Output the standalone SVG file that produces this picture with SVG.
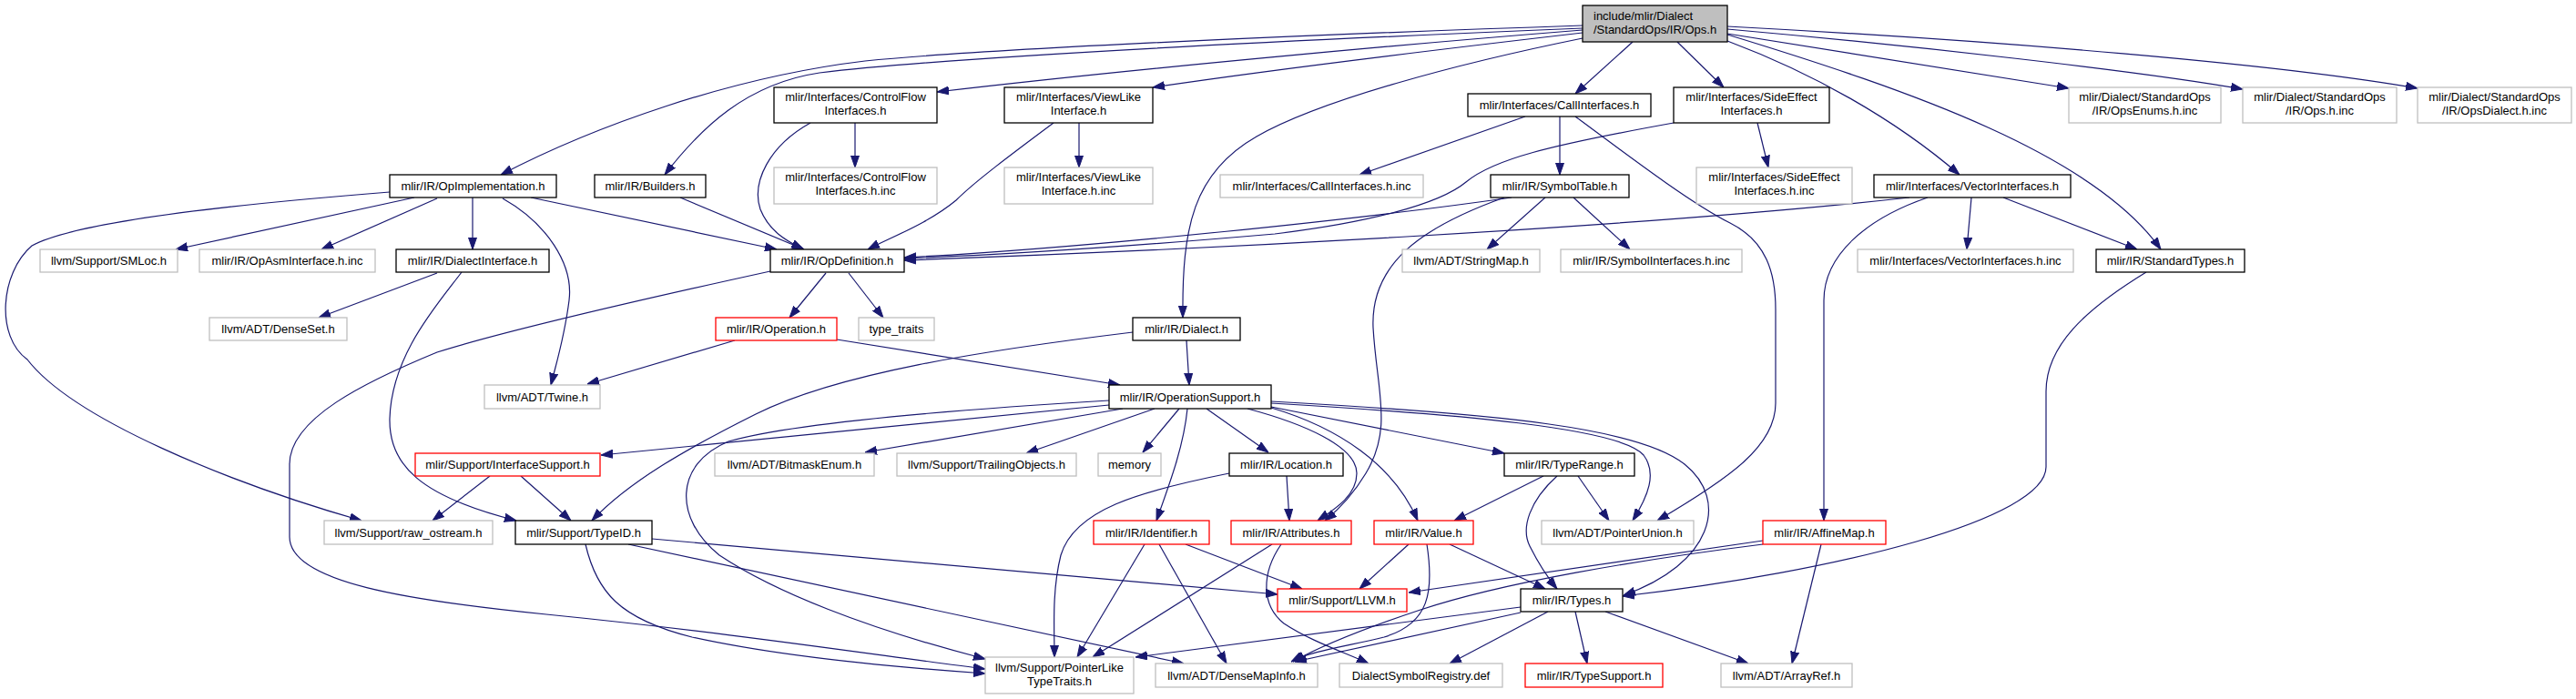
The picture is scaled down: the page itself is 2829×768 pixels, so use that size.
<svg xmlns="http://www.w3.org/2000/svg" width="2829" height="768" viewBox="0 0 2829 768">
<style>
.k rect{fill:#fff;stroke:#000;stroke-width:1.3}
.g rect{fill:#fff;stroke:#bfbfbf;stroke-width:1.3}
.r rect{fill:#fff;stroke:#ff0000;stroke-width:1.3}
.rt rect{fill:#bfbfbf;stroke:#000;stroke-width:1.3}
text{font-family:"Liberation Sans",Arial,sans-serif;font-size:13px;fill:#000;text-anchor:middle}
.rt text{text-anchor:start}
#edges path{fill:none;stroke:#191970;stroke-width:1.2;marker-end:url(#ah)}
</style>
<defs>
<marker id="ah" markerWidth="13" markerHeight="10" refX="13" refY="5" orient="auto" markerUnits="userSpaceOnUse">
<path d="M0,0.5 L13,5 L0,9.5 z" fill="#191970" stroke="#191970" stroke-width="1"/>
</marker>
</defs>
<rect width="2829" height="768" fill="#fff"/>
<g id="edges">
<path d="M1738,28 C1500,36 1100,52 950,67 C800,85 650,140 550,192"/>
<path d="M1738,31 C1400,45 1050,62 900,80 C820,92 770,140 730,192"/>
<path d="M1738,33 C1550,48 1250,75 1029,101"/>
<path d="M1738,36 C1600,52 1400,76 1266,96"/>
<path d="M1738,42 C1600,70 1450,110 1380,150 C1310,190 1298,250 1299,349"/>
<path d="M1793,46 L1730,103"/>
<path d="M1842,46 L1893,96"/>
<path d="M1897,45 C1990,80 2080,130 2152,192"/>
<path d="M1897,38 C2100,100 2300,170 2373,274"/>
<path d="M1897,37 L2272,97"/>
<path d="M1897,32 C2100,50 2350,78 2463,98"/>
<path d="M1897,29 C2200,45 2500,70 2655,97"/>
<path d="M1675,128 L1493,192"/>
<path d="M1713,128 L1713,192"/>
<path d="M1730,128 C1800,180 1860,225 1900,245 C1940,265 1950,300 1950,340 L1950,443 C1950,490 1900,525 1820,572"/>
<path d="M1930,135 L1942,184"/>
<path d="M1838,135 C1700,160 1640,175 1610,200 C1580,225 1500,245 1400,257 C1250,270 1100,280 993,284"/>
<path d="M1660,217 C1500,240 1200,272 993,283"/>
<path d="M2097,217 C1800,250 1300,275 993,286"/>
<path d="M1697,217 L1633,274"/>
<path d="M1728,217 L1790,274"/>
<path d="M1652,217 C1560,250 1505,290 1508,360 C1512,430 1530,470 1500,520 C1485,545 1470,560 1455,572"/>
<path d="M2117,217 C2050,240 2003,280 2003,330 L2003,572"/>
<path d="M2165,217 L2160,274"/>
<path d="M2200,217 L2347,274"/>
<path d="M2357,299 C2290,340 2247,380 2247,430 L2247,513 C2247,570 2020,628 1782,655"/>
<path d="M939,135 L939,184"/>
<path d="M890,135 C845,160 825,200 835,230 C845,255 865,265 882,274"/>
<path d="M1185,135 L1185,184"/>
<path d="M1157,135 C1110,170 1070,200 1050,220 C1020,245 980,260 953,274"/>
<path d="M747,217 L883,274"/>
<path d="M455,217 L193,274"/>
<path d="M480,218 L353,274"/>
<path d="M519,217 L519,274"/>
<path d="M583,217 L853,274"/>
<path d="M552,218 C600,245 630,290 625,330 C620,370 612,395 605,423"/>
<path d="M428,211 C250,225 80,245 35,270 C0,300 -5,370 30,395 C80,460 250,530 397,572"/>
<path d="M480,300 L350,349"/>
<path d="M507,299 C480,335 430,390 428,460 C427,510 460,545 567,572"/>
<path d="M907,300 L867,349"/>
<path d="M932,300 L970,349"/>
<path d="M846,298 C700,330 550,365 480,387 C400,420 318,460 318,510 L318,590 C318,640 450,660 600,675 C800,695 950,718 1082,735"/>
<path d="M807,374 L645,422"/>
<path d="M919,373 L1230,423"/>
<path d="M1303,374 L1306,423"/>
<path d="M1244,365 C1080,385 920,410 830,455 C750,495 690,530 650,572"/>
<path d="M1218,445 L660,500"/>
<path d="M1233,449 L950,497"/>
<path d="M1268,449 L1127,498"/>
<path d="M1295,449 L1255,497"/>
<path d="M1325,449 L1393,497"/>
<path d="M1304,449 C1300,490 1285,530 1270,572"/>
<path d="M1218,440 C1050,450 870,465 800,485 C740,510 740,570 790,610 C850,650 950,690 1082,724"/>
<path d="M1370,449 C1430,465 1490,490 1490,520 C1490,545 1465,560 1447,572"/>
<path d="M1396,448 C1470,470 1530,510 1557,572"/>
<path d="M1396,447 L1652,498"/>
<path d="M1396,443 C1600,455 1780,470 1805,500 C1820,520 1810,545 1793,572"/>
<path d="M1396,441 C1650,455 1800,470 1850,510 C1900,550 1880,620 1783,654"/>
<path d="M538,523 L475,572"/>
<path d="M572,523 L627,572"/>
<path d="M1413,523 L1416,572"/>
<path d="M1350,520 C1250,540 1180,560 1165,610 C1155,650 1158,690 1158,722"/>
<path d="M1695,523 L1597,572"/>
<path d="M1710,523 C1680,550 1670,580 1680,600 C1690,620 1700,635 1710,647"/>
<path d="M1733,523 L1767,572"/>
<path d="M1257,598 L1183,722"/>
<path d="M1273,598 L1347,729"/>
<path d="M1302,598 L1430,647"/>
<path d="M1397,598 L1200,722"/>
<path d="M1407,598 C1385,630 1385,665 1410,685 C1440,705 1480,718 1503,729"/>
<path d="M1547,598 L1493,647"/>
<path d="M1592,598 L1697,647"/>
<path d="M1567,598 C1575,650 1570,685 1520,700 C1480,710 1440,715 1418,727"/>
<path d="M1670,667 L1247,722"/>
<path d="M1670,673 L1422,727"/>
<path d="M1700,672 L1592,729"/>
<path d="M1730,672 L1743,729"/>
<path d="M1763,672 L1920,729"/>
<path d="M1936,594 L1547,651"/>
<path d="M2000,598 L1968,729"/>
<path d="M1936,598 C1800,615 1650,640 1560,670 C1500,690 1450,710 1420,727"/>
<path d="M716,592 L1403,653"/>
<path d="M690,598 L1300,729"/>
<path d="M643,598 C655,650 680,680 760,700 C850,720 980,733 1082,740"/>
</g>
<g id="n_root" class="rt"><rect x="1738" y="6" width="159" height="40"/><text x="1750" y="22">include/mlir/Dialect</text><text x="1750" y="37">/StandardOps/IR/Ops.h</text></g>
<g id="n_cf" class="k"><rect x="850" y="96" width="179" height="39"/><text x="939.5" y="111">mlir/Interfaces/ControlFlow</text><text x="939.5" y="126">Interfaces.h</text></g>
<g id="n_vl" class="k"><rect x="1103" y="96" width="163" height="39"/><text x="1184.5" y="111">mlir/Interfaces/ViewLike</text><text x="1184.5" y="126">Interface.h</text></g>
<g id="n_call" class="k"><rect x="1612" y="103" width="201" height="25"/><text x="1712.5" y="120">mlir/Interfaces/CallInterfaces.h</text></g>
<g id="n_se" class="k"><rect x="1838" y="96" width="171" height="39"/><text x="1923.5" y="111">mlir/Interfaces/SideEffect</text><text x="1923.5" y="126">Interfaces.h</text></g>
<g id="n_enums" class="g"><rect x="2272" y="96" width="167" height="39"/><text x="2355.5" y="111">mlir/Dialect/StandardOps</text><text x="2355.5" y="126">/IR/OpsEnums.h.inc</text></g>
<g id="n_opsinc" class="g"><rect x="2463" y="96" width="169" height="39"/><text x="2547.5" y="111">mlir/Dialect/StandardOps</text><text x="2547.5" y="126">/IR/Ops.h.inc</text></g>
<g id="n_dialinc" class="g"><rect x="2655" y="96" width="169" height="39"/><text x="2739.5" y="111">mlir/Dialect/StandardOps</text><text x="2739.5" y="126">/IR/OpsDialect.h.inc</text></g>
<g id="n_opimpl" class="k"><rect x="428" y="192" width="183" height="25"/><text x="519.5" y="209">mlir/IR/OpImplementation.h</text></g>
<g id="n_builders" class="k"><rect x="653" y="192" width="122" height="25"/><text x="714" y="209">mlir/IR/Builders.h</text></g>
<g id="n_cfinc" class="g"><rect x="850" y="184" width="179" height="40"/><text x="939.5" y="199">mlir/Interfaces/ControlFlow</text><text x="939.5" y="214">Interfaces.h.inc</text></g>
<g id="n_vlinc" class="g"><rect x="1103" y="184" width="163" height="40"/><text x="1184.5" y="199">mlir/Interfaces/ViewLike</text><text x="1184.5" y="214">Interface.h.inc</text></g>
<g id="n_callinc" class="g"><rect x="1340" y="192" width="223" height="25"/><text x="1451.5" y="209">mlir/Interfaces/CallInterfaces.h.inc</text></g>
<g id="n_symtab" class="k"><rect x="1637" y="192" width="152" height="25"/><text x="1713" y="209">mlir/IR/SymbolTable.h</text></g>
<g id="n_seinc" class="g"><rect x="1863" y="184" width="171" height="40"/><text x="1948.5" y="199">mlir/Interfaces/SideEffect</text><text x="1948.5" y="214">Interfaces.h.inc</text></g>
<g id="n_vec" class="k"><rect x="2058" y="192" width="216" height="25"/><text x="2166" y="209">mlir/Interfaces/VectorInterfaces.h</text></g>
<g id="n_smloc" class="g"><rect x="44" y="274" width="151" height="25"/><text x="119.5" y="291">llvm/Support/SMLoc.h</text></g>
<g id="n_opasm" class="g"><rect x="219" y="274" width="193" height="25"/><text x="315.5" y="291">mlir/IR/OpAsmInterface.h.inc</text></g>
<g id="n_dialif" class="k"><rect x="435" y="274" width="168" height="25"/><text x="519" y="291">mlir/IR/DialectInterface.h</text></g>
<g id="n_opdef" class="k"><rect x="846" y="274" width="147" height="25"/><text x="919.5" y="291">mlir/IR/OpDefinition.h</text></g>
<g id="n_strmap" class="g"><rect x="1540" y="274" width="151" height="25"/><text x="1615.5" y="291">llvm/ADT/StringMap.h</text></g>
<g id="n_syminc" class="g"><rect x="1714" y="274" width="199" height="25"/><text x="1813.5" y="291">mlir/IR/SymbolInterfaces.h.inc</text></g>
<g id="n_vecinc" class="g"><rect x="2040" y="274" width="237" height="25"/><text x="2158.5" y="291">mlir/Interfaces/VectorInterfaces.h.inc</text></g>
<g id="n_stdtypes" class="k"><rect x="2302" y="274" width="163" height="25"/><text x="2383.5" y="291">mlir/IR/StandardTypes.h</text></g>
<g id="n_denseset" class="g"><rect x="230" y="349" width="151" height="25"/><text x="305.5" y="366">llvm/ADT/DenseSet.h</text></g>
<g id="n_operation" class="r"><rect x="786" y="349" width="133" height="25"/><text x="852.5" y="366">mlir/IR/Operation.h</text></g>
<g id="n_typetraits" class="g"><rect x="943" y="349" width="83" height="25"/><text x="984.5" y="366">type_traits</text></g>
<g id="n_dialect" class="k"><rect x="1244" y="349" width="118" height="25"/><text x="1303" y="366">mlir/IR/Dialect.h</text></g>
<g id="n_twine" class="g"><rect x="532" y="423" width="127" height="26"/><text x="595.5" y="441">llvm/ADT/Twine.h</text></g>
<g id="n_opsupport" class="k"><rect x="1218" y="423" width="178" height="26"/><text x="1307" y="441">mlir/IR/OperationSupport.h</text></g>
<g id="n_ifsupport" class="r"><rect x="456" y="498" width="203" height="25"/><text x="557.5" y="515">mlir/Support/InterfaceSupport.h</text></g>
<g id="n_bitmask" class="g"><rect x="785" y="498" width="175" height="25"/><text x="872.5" y="515">llvm/ADT/BitmaskEnum.h</text></g>
<g id="n_trailing" class="g"><rect x="985" y="498" width="197" height="25"/><text x="1083.5" y="515">llvm/Support/TrailingObjects.h</text></g>
<g id="n_memory" class="g"><rect x="1206" y="498" width="69" height="25"/><text x="1240.5" y="515">memory</text></g>
<g id="n_location" class="k"><rect x="1350" y="498" width="125" height="25"/><text x="1412.5" y="515">mlir/IR/Location.h</text></g>
<g id="n_typerange" class="k"><rect x="1652" y="498" width="143" height="25"/><text x="1723.5" y="515">mlir/IR/TypeRange.h</text></g>
<g id="n_rawos" class="g"><rect x="356" y="572" width="185" height="26"/><text x="448.5" y="590">llvm/Support/raw_ostream.h</text></g>
<g id="n_typeid" class="k"><rect x="566" y="572" width="150" height="26"/><text x="641" y="590">mlir/Support/TypeID.h</text></g>
<g id="n_identifier" class="r"><rect x="1201" y="572" width="127" height="26"/><text x="1264.5" y="590">mlir/IR/Identifier.h</text></g>
<g id="n_attributes" class="r"><rect x="1352" y="572" width="132" height="26"/><text x="1418" y="590">mlir/IR/Attributes.h</text></g>
<g id="n_value" class="r"><rect x="1509" y="572" width="109" height="26"/><text x="1563.5" y="590">mlir/IR/Value.h</text></g>
<g id="n_ptrunion" class="g"><rect x="1693" y="572" width="167" height="26"/><text x="1776.5" y="590">llvm/ADT/PointerUnion.h</text></g>
<g id="n_affine" class="r"><rect x="1936" y="572" width="135" height="26"/><text x="2003.5" y="590">mlir/IR/AffineMap.h</text></g>
<g id="n_llvm" class="r"><rect x="1403" y="647" width="142" height="25"/><text x="1474" y="664">mlir/Support/LLVM.h</text></g>
<g id="n_types" class="k"><rect x="1670" y="647" width="112" height="25"/><text x="1726" y="664">mlir/IR/Types.h</text></g>
<g id="n_ptrlike" class="g"><rect x="1082" y="722" width="163" height="40"/><text x="1163.5" y="737.5">llvm/Support/PointerLike</text><text x="1163.5" y="752.5">TypeTraits.h</text></g>
<g id="n_densemap" class="g"><rect x="1269" y="729" width="178" height="26"/><text x="1358" y="747">llvm/ADT/DenseMapInfo.h</text></g>
<g id="n_dsr" class="g"><rect x="1471" y="729" width="179" height="26"/><text x="1560.5" y="747">DialectSymbolRegistry.def</text></g>
<g id="n_typesupport" class="r"><rect x="1675" y="729" width="151" height="26"/><text x="1750.5" y="747">mlir/IR/TypeSupport.h</text></g>
<g id="n_arrayref" class="g"><rect x="1890" y="729" width="144" height="26"/><text x="1962" y="747">llvm/ADT/ArrayRef.h</text></g>
</svg>
